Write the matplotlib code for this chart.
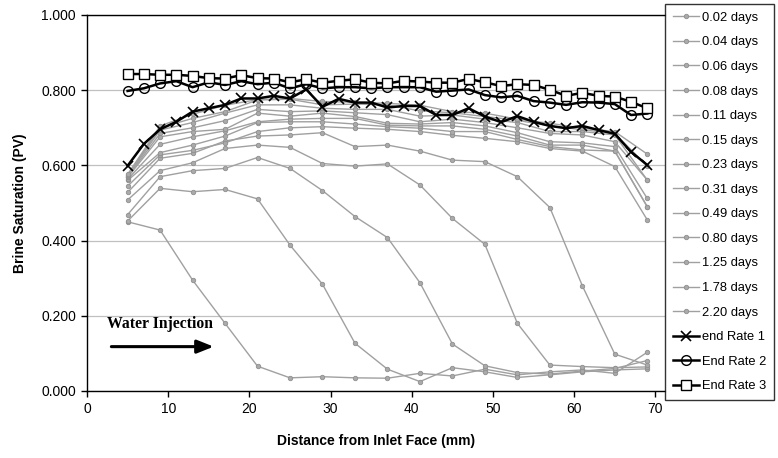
import matplotlib
matplotlib.use("Agg")
import matplotlib.pyplot as plt
from matplotlib.ticker import FormatStrFormatter, MultipleLocator

plt.rcParams["font.family"] = ["Liberation Sans", "DejaVu Sans"]

# ── Data ──────────────────────────────────────────────────────────────────────
x_profile = [5, 9, 13, 17, 21, 25, 29, 33, 37, 41, 45, 49, 53, 57, 61, 65, 69]
x_end = [5, 7, 9, 11, 13, 15, 17, 19, 21, 23, 25, 27, 29, 31, 33, 35, 37,
         39, 41, 43, 45, 47, 49, 51, 53, 55, 57, 59, 61, 63, 65, 67, 69]

day_labels = ["0.02 days", "0.04 days", "0.06 days", "0.08 days", "0.11 days",
              "0.15 days", "0.23 days", "0.31 days", "0.49 days", "0.80 days",
              "1.25 days", "1.78 days", "2.20 days"]

s_002 = [0.450, 0.428, 0.295, 0.180, 0.066, 0.035, 0.038, 0.035, 0.034,
         0.047, 0.040, 0.058, 0.043, 0.051, 0.056, 0.047, 0.103]
s_004 = [0.452, 0.539, 0.530, 0.536, 0.511, 0.388, 0.284, 0.127, 0.058,
         0.025, 0.062, 0.051, 0.036, 0.043, 0.051, 0.056, 0.059]
s_006 = [0.469, 0.570, 0.586, 0.592, 0.621, 0.592, 0.533, 0.464, 0.408,
         0.288, 0.125, 0.067, 0.049, 0.045, 0.053, 0.060, 0.081]
s_008 = [0.508, 0.586, 0.607, 0.645, 0.654, 0.648, 0.605, 0.598, 0.604,
         0.548, 0.459, 0.390, 0.180, 0.069, 0.065, 0.062, 0.064]
s_011 = [0.528, 0.619, 0.632, 0.665, 0.678, 0.681, 0.687, 0.650, 0.654,
         0.638, 0.614, 0.610, 0.570, 0.488, 0.280, 0.098, 0.069]
s_015 = [0.545, 0.628, 0.640, 0.660, 0.690, 0.700, 0.703, 0.699, 0.696,
         0.690, 0.680, 0.672, 0.663, 0.645, 0.638, 0.597, 0.455]
s_023 = [0.560, 0.634, 0.654, 0.678, 0.714, 0.716, 0.716, 0.710, 0.703,
         0.699, 0.690, 0.690, 0.669, 0.650, 0.641, 0.638, 0.490]
s_031 = [0.563, 0.656, 0.676, 0.692, 0.716, 0.723, 0.725, 0.725, 0.707,
         0.705, 0.705, 0.696, 0.678, 0.654, 0.654, 0.638, 0.490]
s_049 = [0.568, 0.676, 0.690, 0.696, 0.739, 0.731, 0.739, 0.730, 0.712,
         0.710, 0.714, 0.705, 0.687, 0.663, 0.660, 0.650, 0.512]
s_080 = [0.570, 0.685, 0.700, 0.719, 0.749, 0.743, 0.745, 0.740, 0.735,
         0.716, 0.723, 0.714, 0.700, 0.685, 0.681, 0.663, 0.561]
s_125 = [0.572, 0.694, 0.714, 0.739, 0.761, 0.761, 0.752, 0.749, 0.749,
         0.731, 0.734, 0.723, 0.714, 0.690, 0.690, 0.681, 0.561]
s_178 = [0.574, 0.700, 0.725, 0.743, 0.774, 0.776, 0.761, 0.763, 0.761,
         0.745, 0.740, 0.730, 0.720, 0.705, 0.695, 0.685, 0.598]
s_220 = [0.576, 0.705, 0.736, 0.760, 0.775, 0.778, 0.770, 0.768, 0.765,
         0.760, 0.743, 0.739, 0.723, 0.712, 0.699, 0.690, 0.630]

end_rate_1 = [0.599, 0.657, 0.696, 0.716, 0.743, 0.752, 0.761, 0.778, 0.778,
              0.785, 0.778, 0.802, 0.756, 0.777, 0.767, 0.767, 0.754, 0.758,
              0.758, 0.734, 0.734, 0.752, 0.730, 0.715, 0.731, 0.716, 0.705,
              0.699, 0.705, 0.694, 0.684, 0.636, 0.601]
end_rate_2 = [0.798, 0.805, 0.818, 0.824, 0.808, 0.821, 0.814, 0.824, 0.816,
              0.820, 0.805, 0.816, 0.805, 0.808, 0.808, 0.805, 0.808, 0.808,
              0.808, 0.796, 0.799, 0.802, 0.787, 0.781, 0.785, 0.771, 0.767,
              0.761, 0.768, 0.767, 0.763, 0.734, 0.738]
end_rate_3 = [0.843, 0.843, 0.841, 0.841, 0.838, 0.832, 0.831, 0.840, 0.832,
              0.831, 0.821, 0.829, 0.820, 0.825, 0.829, 0.820, 0.818, 0.825,
              0.823, 0.820, 0.820, 0.830, 0.821, 0.811, 0.816, 0.814, 0.801,
              0.785, 0.793, 0.785, 0.783, 0.769, 0.752]

profiles = [s_002, s_004, s_006, s_008, s_011, s_015, s_023, s_031,
            s_049, s_080, s_125, s_178, s_220]

# ── Figure ────────────────────────────────────────────────────────────────────
W, H = 778, 458
fig = plt.figure(figsize=(W / 100, H / 100), dpi=100)
ax = fig.add_axes([87 / W, 1 - 391 / H, (665 - 87) / W, (391 - 15) / H])

for lab, vals in zip(day_labels, profiles):
    ax.plot(x_profile, vals, color="#a0a0a0", lw=1.0, marker="o", ms=3.2,
            mfc="#aaaaaa", mec="#909090", mew=0.6, label=lab, zorder=2)

ax.plot(x_end, end_rate_1, color="black", lw=1.8, marker="x", ms=7, mew=1.2,
        label="end Rate 1", zorder=4)
ax.plot(x_end, end_rate_2, color="black", lw=1.8, marker="o", ms=7, mew=1.0,
        mfc="none", label="End Rate 2", zorder=4)
ax.plot(x_end, end_rate_3, color="black", lw=1.8, marker="s", ms=7, mew=1.0,
        mfc="white", label="End Rate 3", zorder=4)

ax.set_xlim(0, (665 - 87) / 8.12)
ax.set_ylim(0, 1.0)
ax.set_xticks([0, 10, 20, 30, 40, 50, 60, 70])
ax.yaxis.set_major_locator(MultipleLocator(0.2))
ax.yaxis.set_major_formatter(FormatStrFormatter("%.3f"))
ax.grid(axis="y", color="#c0c0c0", lw=0.9, zorder=0)
ax.set_axisbelow(True)
ax.spines["right"].set_visible(False)
for side in ["left", "bottom", "top"]:
    ax.spines[side].set_color("black")
    ax.spines[side].set_linewidth(1.0)
ax.tick_params(direction="out", length=4, width=1, labelsize=10, pad=4)

ax.set_xlabel("Distance from Inlet Face (mm)", fontsize=10, fontweight="bold",
              labelpad=13)
ax.set_ylabel("Brine Saturation (PV)", fontsize=10, fontweight="bold",
              labelpad=10)

# Water injection annotation
ax.text(2.5, 0.178, "Water Injection", fontsize=11.3, fontweight="bold",
        family=["Liberation Serif", "DejaVu Serif"], va="center", ha="left")
ax.annotate("", xy=(15.6, 0.118), xytext=(3.0, 0.118),
            arrowprops=dict(arrowstyle="-|>,head_length=1.0,head_width=0.4",
                            color="black", lw=2.2, shrinkA=0, shrinkB=0))

leg = ax.legend(loc="upper left", bbox_to_anchor=(665 / W, 1 - 4 / H),
                bbox_transform=fig.transFigure, fontsize=9.3, frameon=True,
                fancybox=False, borderaxespad=0, handlelength=2.0,
                handletextpad=0.25, labelspacing=0.97, borderpad=0.6)
leg.get_frame().set_edgecolor("black")
leg.get_frame().set_linewidth(1.0)

fig.savefig("out.png", dpi=100)
